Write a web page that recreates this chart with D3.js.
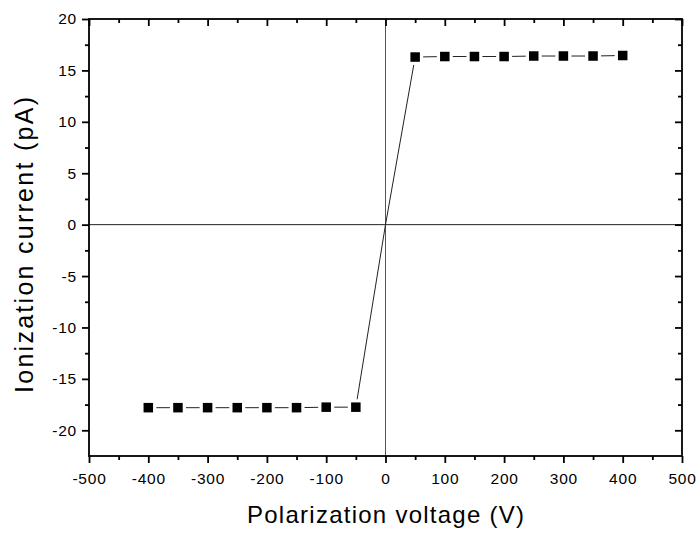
<!DOCTYPE html>
<html>
<head>
<meta charset="utf-8">
<script src="https://cdn.jsdelivr.net/npm/d3@7"></script>
<style>
  body { margin: 0; background: #fff; }
  svg text { font-family: "Liberation Sans", Arial, sans-serif; fill: #000; }
</style>
</head>
<body>
<div id="chart"></div>
<script>
// --- data ---
const voltage = [-400, -350, -300, -250, -200, -150, -100, -50, 0, 50, 100, 150, 200, 250, 300, 350, 400];
const current = [-17.8, -17.8, -17.8, -17.8, -17.8, -17.8, -17.75, -17.75, 0, 16.3, 16.35, 16.35, 16.35, 16.4, 16.4, 16.4, 16.45];
const xTicks = [-500, -400, -300, -200, -100, 0, 100, 200, 300, 400, 500];
const yTicks = [-20, -15, -10, -5, 0, 5, 10, 15, 20];

const width = 697, height = 534;
const margin = { left: 89, right: 15, top: 19, bottom: 78 };
const innerW = width - margin.left - margin.right;
const innerH = height - margin.top - margin.bottom;

const svg = d3.select("#chart").append("svg").attr("width", width).attr("height", height);
const g = svg.append("g").attr("transform", `translate(${margin.left},${margin.top})`);

const x = d3.scaleLinear().domain([-500, 500]).range([0, innerW]);
const y = d3.scaleLinear().domain([-22.5, 20]).range([innerH, 0]);

const points = voltage.map((v, i) => ({ v, c: current[i] }));

// zero lines
g.append("line").attr("x1", 0).attr("x2", innerW).attr("y1", y(0)).attr("y2", y(0))
  .attr("stroke", "#222").attr("stroke-width", 1);
g.append("line").attr("x1", x(0)).attr("x2", x(0)).attr("y1", 0).attr("y2", innerH)
  .attr("stroke", "#555").attr("stroke-width", 1);

// connecting line with a small gap at each symbol
const gap = 8;
const segs = d3.pairs(points).map(([a, b]) => {
  const x1 = x(a.v), y1 = y(a.c), x2 = x(b.v), y2 = y(b.c);
  const len = Math.hypot(x2 - x1, y2 - y1);
  const ux = (x2 - x1) / len, uy = (y2 - y1) / len;
  const g1 = a.v === 0 ? 0 : gap, g2 = b.v === 0 ? 0 : gap;
  return { x1: x1 + ux * g1, y1: y1 + uy * g1, x2: x2 - ux * g2, y2: y2 - uy * g2 };
});
g.selectAll(".seg").data(segs).join("line").attr("class", "seg")
  .attr("x1", d => d.x1).attr("y1", d => d.y1).attr("x2", d => d.x2).attr("y2", d => d.y2)
  .attr("stroke", "#222").attr("stroke-width", 1);

// square symbols (no symbol at the origin point)
const s = 9.5;
g.selectAll(".pt").data(points.filter(d => d.v !== 0)).join("rect").attr("class", "pt")
  .attr("x", d => x(d.v) - s / 2).attr("y", d => y(d.c) - s / 2)
  .attr("width", s).attr("height", s).attr("fill", "#000");

// axes
const xMinor = d3.range(-450, 500, 100);
const yMinor = d3.range(-17.5, 20, 5);
const fmt = d => String(d); // plain hyphen minus, as in the reference

function styleAxis(sel) {
  sel.select(".domain").remove();
  sel.selectAll(".tick line").attr("stroke", "#000").attr("stroke-width", 1.8);
  sel.selectAll(".tick text").style("font-size", "15.5px").style("letter-spacing", "0.8px");
}

// bottom: outward ticks with labels
g.append("g").attr("transform", `translate(0,${innerH})`)
  .call(d3.axisBottom(x).tickValues(xTicks).tickSize(7).tickPadding(10).tickFormat(fmt))
  .call(styleAxis);
g.append("g").attr("transform", `translate(0,${innerH})`)
  .call(d3.axisBottom(x).tickValues(xMinor).tickSize(4).tickFormat(""))
  .call(styleAxis);

// top: inward ticks, no labels
g.append("g").call(d3.axisBottom(x).tickValues(xTicks).tickSize(7).tickFormat("")).call(styleAxis);
g.append("g").call(d3.axisBottom(x).tickValues(xMinor).tickSize(4).tickFormat("")).call(styleAxis);

// left: outward ticks with labels
g.append("g")
  .call(d3.axisLeft(y).tickValues(yTicks).tickSize(7).tickPadding(5).tickFormat(fmt))
  .call(styleAxis);
g.append("g").call(d3.axisLeft(y).tickValues(yMinor).tickSize(4).tickFormat("")).call(styleAxis);

// right: inward ticks, no labels
g.append("g").attr("transform", `translate(${innerW},0)`)
  .call(d3.axisLeft(y).tickValues(yTicks).tickSize(7).tickFormat("")).call(styleAxis);
g.append("g").attr("transform", `translate(${innerW},0)`)
  .call(d3.axisLeft(y).tickValues(yMinor).tickSize(4).tickFormat("")).call(styleAxis);

// frame
g.append("rect").attr("width", innerW).attr("height", innerH)
  .attr("fill", "none").attr("stroke", "#000").attr("stroke-width", 1.8);

// titles
svg.append("text").attr("x", margin.left + innerW / 2).attr("y", 523)
  .attr("text-anchor", "middle").style("font-size", "24px")
  .attr("textLength", 277).attr("lengthAdjust", "spacing")
  .text("Polarization voltage (V)");
svg.append("text").attr("transform", `translate(33,245) rotate(-90)`)
  .attr("text-anchor", "middle").style("font-size", "25px")
  .attr("textLength", 296).attr("lengthAdjust", "spacing")
  .text("Ionization current (pA)");
</script>
</body>
</html>
